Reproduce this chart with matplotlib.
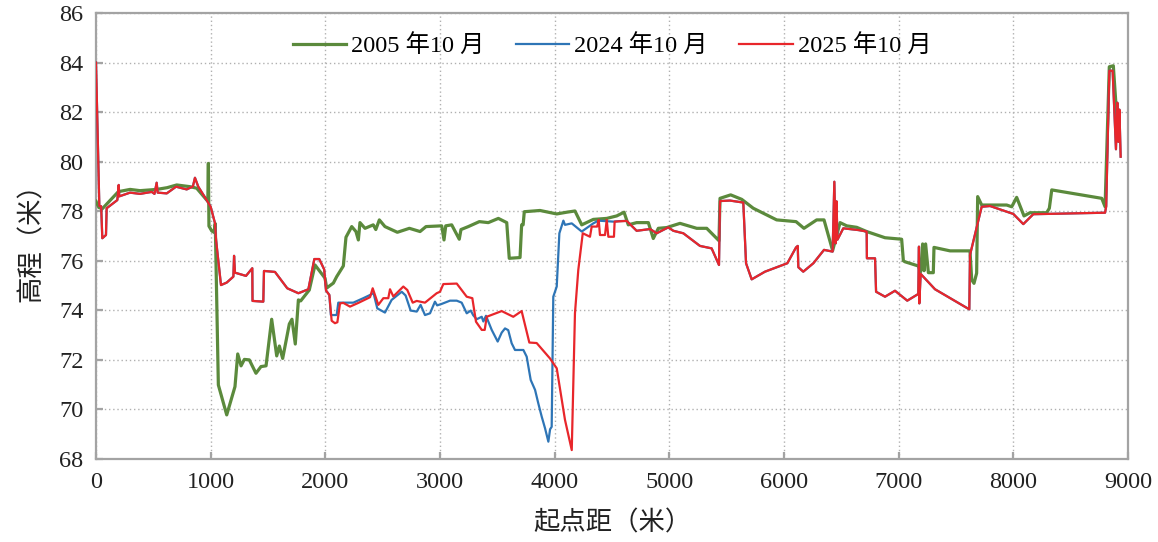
import matplotlib
matplotlib.use("Agg")
import matplotlib.pyplot as plt
import numpy as np

# Cross-section survey: distance from start point (m) vs. bed elevation (m)
x_2005 = [0, 25, 55, 195, 297, 384, 529, 620, 704, 820, 878, 975, 980, 985, 1010, 1030, 1040,
          1067, 1140, 1212, 1236, 1265, 1294, 1337, 1395, 1439, 1483, 1532, 1576, 1599, 1628,
          1686, 1709, 1738, 1765, 1785, 1860, 1910, 1997, 2012, 2026, 2070, 2099, 2157, 2180,
          2230, 2267, 2288, 2302, 2346, 2418, 2440, 2471, 2520, 2628, 2733, 2826, 2878, 3015,
          3035, 3050, 3102, 3168, 3183, 3247, 3343, 3421, 3509, 3582, 3604, 3698, 3712, 3725,
          3735, 3872, 4018, 4105, 4177, 4236, 4337, 4454, 4541, 4605, 4642, 4715, 4817, 4860,
          4904, 4977, 5093, 5239, 5326, 5433, 5442, 5535, 5631, 5732, 5936, 6105, 6174, 6285,
          6349, 6424, 6489, 6547, 6634, 6721, 6881, 7026, 7041, 7055, 7171, 7192, 7209, 7222,
          7235, 7259, 7302, 7308, 7448, 7622, 7637, 7657, 7680, 7689, 7724, 7942, 7986, 8029,
          8093, 8145, 8291, 8314, 8335, 8771, 8800, 8837, 8872, 8916]
z_2005 = [78.4, 78.15, 78.1, 78.79, 78.88, 78.83, 78.88, 78.95, 79.06, 78.99, 78.93, 78.4, 79.93,
          77.4, 77.2, 77.15, 77.5, 70.99, 69.78, 70.92, 72.24, 71.76, 72.02, 72.0, 71.46, 71.73,
          71.76, 73.64, 72.16, 72.56, 72.06, 73.45, 73.64, 72.64, 74.42, 74.38, 74.82, 75.83,
          75.3, 74.9, 74.95, 75.1, 75.36, 75.79, 76.95, 77.38, 77.18, 76.84, 77.54, 77.31, 77.45,
          77.26, 77.65, 77.38, 77.15, 77.31, 77.18, 77.38, 77.41, 76.84, 77.41, 77.45, 76.87,
          77.26, 77.38, 77.58, 77.54, 77.71, 77.54, 76.10, 76.13, 77.45, 77.45, 77.98, 78.03,
          77.89, 77.96, 78.01, 77.45, 77.67, 77.71, 77.81, 77.96, 77.45, 77.54, 77.54, 76.9,
          77.31, 77.34, 77.51, 77.31, 77.31, 76.81, 78.52, 78.66, 78.48, 78.12, 77.65, 77.58,
          77.31, 77.65, 77.65, 76.41, 77.54, 77.41, 77.35, 77.18, 76.93, 76.87, 76.0, 75.96,
          75.79, 75.56, 76.68, 75.6, 76.68, 75.52, 75.52, 76.54, 76.40, 76.40, 75.23, 75.09,
          75.5, 78.59, 78.25, 78.25, 78.18, 78.56, 77.81, 77.94, 77.94, 78.12, 78.86, 78.52,
          78.18, 83.83, 83.87, 80.87]

x_2025 = [0, 29, 45, 55, 87, 93, 186, 198, 203, 297, 384, 486, 510, 529, 538, 617, 698, 791,
          845, 863, 892, 965, 1000, 1038, 1047, 1090, 1140, 1198, 1204, 1212, 1308, 1363, 1365,
          1459, 1465, 1561, 1668, 1765, 1852, 1904, 1947, 1990, 2006, 2035, 2055, 2084, 2105,
          2128, 2157, 2215, 2288, 2390, 2413, 2462, 2506, 2549, 2564, 2593, 2680, 2715, 2762,
          2797, 2869, 2971, 3000, 3029, 3146, 3233, 3282, 3314, 3364, 3390, 3407, 3538, 3639,
          3712, 3779, 3843, 3959, 4018, 4090, 4149, 4177, 4206, 4245, 4308, 4323, 4370, 4384,
          4395, 4439, 4454, 4468, 4517, 4523, 4628, 4715, 4832, 4890, 4991, 5035, 5122, 5267,
          5369, 5433, 5442, 5529, 5645, 5669, 5718, 5834, 6029, 6105, 6120, 6125, 6168, 6256,
          6349, 6424, 6439, 6450, 6458, 6466, 6517, 6648, 6721, 6723, 6794, 6803, 6881, 6968,
          7075, 7171, 7177, 7180, 7192, 7317, 7616, 7622, 7724, 7797, 8000, 8087, 8174, 8800,
          8810, 8837, 8866, 8895, 8907, 8916, 8925, 8936]
z_2025 = [84.0, 78.21, 78.2, 76.91, 77.04, 78.12, 78.45, 79.06, 78.6, 78.75, 78.7, 78.78, 78.7,
          79.15, 78.75, 78.72, 78.99, 78.88, 79.0, 79.35, 78.99, 78.45, 78.18, 77.51, 76.84,
          75.02, 75.12, 75.36, 76.2, 75.52, 75.39, 75.7, 74.38, 74.35, 75.59, 75.55, 74.89,
          74.69, 74.85, 76.07, 76.07, 75.65, 74.8, 74.62, 73.58, 73.48, 73.52, 74.28, 74.3,
          74.15, 74.3, 74.53, 74.89, 74.22, 74.49, 74.49, 74.85, 74.56, 74.96, 74.82, 74.31,
          74.38, 74.31, 74.69, 74.75, 75.06, 75.08, 74.55, 74.49, 73.54, 73.21, 73.21, 73.74,
          73.97, 73.74, 73.97, 72.70, 72.68, 72.06, 71.66, 69.58, 68.36, 73.88, 75.63, 77.11,
          76.97, 77.38, 77.38, 77.65, 77.04, 77.04, 77.65, 76.97, 76.97, 77.58, 77.61, 77.21,
          77.28, 77.11, 77.35, 77.21, 77.11, 76.6, 76.5, 75.83, 78.41, 78.43, 78.35, 75.9, 75.25,
          75.56, 75.9, 76.54, 76.6, 75.74, 75.56, 75.9, 76.44, 76.37, 79.19, 76.7, 78.4, 76.85,
          77.31, 77.24, 77.18, 76.1, 76.1, 74.75, 74.55, 74.79, 74.39, 74.66, 76.57, 74.28,
          75.47, 74.85, 74.04, 76.23, 78.18, 78.21, 77.89, 77.48, 77.88, 77.94, 78.2, 83.67,
          83.67, 80.5, 82.38, 80.8, 82.1, 80.2]

# 2024 survey: only the reach 2035-4560 m differs from the 2025 survey
x_2024_mid = [2035, 2048, 2099, 2113, 2244, 2331, 2390, 2420, 2453, 2520, 2578, 2666, 2700,
              2744, 2797, 2831, 2869, 2913, 2956, 2975, 3015, 3087, 3146, 3189, 3233, 3268,
              3290, 3320, 3364, 3378, 3401, 3451, 3503, 3538, 3567, 3595, 3625, 3654, 3727,
              3756, 3791, 3829, 3857, 3887, 3916, 3945, 3960, 3974, 3988, 4018, 4041, 4076,
              4090, 4149, 4236, 4337, 4381, 4512, 4560]
z_2024_mid = [74.62, 73.81, 73.81, 74.31, 74.31, 74.49, 74.62, 74.7, 74.08, 73.91, 74.42, 74.75,
              74.6, 73.99, 73.95, 74.22, 73.81, 73.88, 74.35, 74.2, 74.26, 74.39, 74.39, 74.31,
              73.88, 73.99, 73.8, 73.64, 73.74, 73.55, 73.78, 73.21, 72.74, 73.1, 73.27, 73.2,
              72.67, 72.40, 72.40, 72.13, 71.19, 70.79, 70.25, 69.71, 69.24, 68.70, 69.2, 69.3,
              74.55, 74.96, 77.11, 77.62, 77.45, 77.51, 77.18, 77.51, 77.62, 77.58, 77.6]

labels = ["2005 年10 月", "2024 年10 月", "2025 年10 月"]
colors = ["#5b8a3c", "#2e75b6", "#e8262b"]

# assemble the full 2024 profile from the shared reaches
xr = np.array(x_2025, dtype=float)
zr = np.array(z_2025, dtype=float)
x_lo, x_hi = x_2024_mid[0], x_2024_mid[-1]
x_2024 = np.concatenate([xr[xr < x_lo], x_2024_mid, xr[xr > x_hi]])
z_2024 = np.concatenate([zr[xr < x_lo], z_2024_mid, zr[xr > x_hi]])

serif = ["Liberation Serif", "Noto Sans CJK SC"]
plt.rcParams["font.family"] = serif
plt.rcParams["font.size"] = 17.5

fig = plt.figure(figsize=(11.58, 5.42), dpi=100)
ax = fig.add_axes([96 / 1158, 1 - 459 / 542, (1128 - 96) / 1158, (459 - 13) / 542])

ax.plot(x_2005, z_2005, color=colors[0], lw=2.3, label=labels[0], zorder=3)
ax.plot(x_2024, z_2024, color=colors[1], lw=1.6, label=labels[1], zorder=4)
ax.plot(x_2025, z_2025, color=colors[2], lw=1.6, label=labels[2], zorder=5)

ax.set_xlim(0, 9000)
ax.set_ylim(68, 86)
ax.set_xticks(np.arange(0, 9001, 1000))
ax.set_yticks(np.arange(68, 87, 2))

gray = "#a3a3a3"
for s in ax.spines.values():
    s.set_color(gray)
    s.set_linewidth(1.6)
ax.tick_params(axis="both", direction="in", color=gray, width=1.6, length=5,
               labelsize=17.5, labelcolor="#222222", pad=9)
ax.grid(True, color="#b0b0b0", linestyle=(0, (1, 2)), linewidth=1.0, zorder=0)
ax.set_axisbelow(True)

ax.set_xlabel("起点距（米）", family=["Noto Sans CJK SC"], fontsize=19,
              color="#222222", labelpad=12)
ax.set_ylabel("高程（米）", family=["Noto Sans CJK SC"], fontsize=19,
              color="#222222", labelpad=10)

leg = ax.legend(loc="upper center", bbox_to_anchor=(0.5, 1.0), ncol=3, frameon=False,
                handlelength=2.2, handletextpad=0.2, columnspacing=1.3,
                prop={"family": serif, "size": 17.5})

fig.savefig("out.png", dpi=100)
